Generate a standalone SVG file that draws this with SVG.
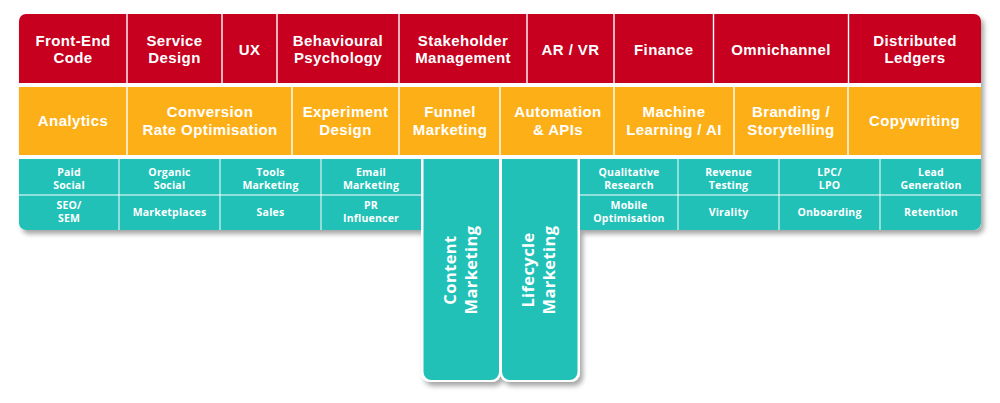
<svg xmlns="http://www.w3.org/2000/svg" width="1000" height="403" viewBox="0 0 1000 403">
<defs>
<filter id="sh" x="-5%" y="-5%" width="115%" height="130%">
<feDropShadow dx="3" dy="4" stdDeviation="2.5" flood-color="#000" flood-opacity="0.35"/>
</filter>
<style>
.r{fill:#C6001E}
.o{fill:#FDAF17}
.t{fill:#21C1B8}
text{font-family:"Open Sans","Liberation Sans",sans-serif;font-weight:700;fill:#fff;text-anchor:middle}
.big{font-family:"Liberation Sans",Arial,sans-serif;font-size:15px;letter-spacing:0.4px}
.sm{font-size:10.5px;letter-spacing:0.2px}
.v{font-size:16.5px;letter-spacing:0.4px}
</style>
</defs>
<rect width="1000" height="403" fill="#fff"/>
<g id="background" filter="url(#sh)" fill="#fff">
<rect x="19" y="14" width="962" height="216" rx="7"/>
<rect x="421" y="150" width="80" height="232" rx="9"/>
<rect x="500" y="150" width="80" height="232" rx="9"/>
</g>
<g id="red-row">
<g id="front-end-code"><path class="r" d="M19,21a7,7 0 0 1 7,-7H126.3V83H19Z"/><text class="big"><tspan x="73" y="45.5">Front-End</tspan><tspan x="73" y="63">Code</tspan></text></g>
<g id="service-design"><rect class="r" x="127.7" y="14" width="93.6" height="69"/><text class="big"><tspan x="174.5" y="45.5">Service</tspan><tspan x="174.5" y="63">Design</tspan></text></g>
<g id="ux"><rect class="r" x="222.7" y="14" width="53.6" height="69"/><text class="big" x="249.5" y="54.5">UX</text></g>
<g id="behavioural-psychology"><rect class="r" x="277.7" y="14" width="120.6" height="69"/><text class="big"><tspan x="338" y="45.5">Behavioural</tspan><tspan x="338" y="63">Psychology</tspan></text></g>
<g id="stakeholder-management"><rect class="r" x="399.7" y="14" width="126.6" height="69"/><text class="big"><tspan x="463" y="45.5">Stakeholder</tspan><tspan x="463" y="63">Management</tspan></text></g>
<g id="ar-vr"><rect class="r" x="527.7" y="14" width="85.6" height="69"/><text class="big" x="570.5" y="54.5">AR / VR</text></g>
<g id="finance"><rect class="r" x="614.7" y="14" width="98.1" height="69"/><text class="big" x="663.8" y="54.5">Finance</text></g>
<g id="omnichannel"><rect class="r" x="714.2" y="14" width="133.6" height="69"/><text class="big" x="781" y="54.5">Omnichannel</text></g>
<g id="distributed-ledgers"><path class="r" d="M849.2,14H974a7,7 0 0 1 7,7V83H849.2Z"/><text class="big"><tspan x="915" y="45.5">Distributed</tspan><tspan x="915" y="63">Ledgers</tspan></text></g>
</g>
<g id="orange-row">
<g id="analytics"><rect class="o" x="19" y="87" width="107.3" height="68"/><text class="big" x="73" y="126">Analytics</text></g>
<g id="cro"><rect class="o" x="127.7" y="87" width="163.6" height="68"/><text class="big"><tspan x="210" y="117">Conversion</tspan><tspan x="210" y="134.5">Rate Optimisation</tspan></text></g>
<g id="experiment-design"><rect class="o" x="292.7" y="87" width="105.6" height="68"/><text class="big"><tspan x="345.5" y="117">Experiment</tspan><tspan x="345.5" y="134.5">Design</tspan></text></g>
<g id="funnel-marketing"><rect class="o" x="399.7" y="87" width="99.6" height="68"/><text class="big"><tspan x="450" y="117">Funnel</tspan><tspan x="450" y="134.5">Marketing</tspan></text></g>
<g id="automation-apis"><rect class="o" x="500.7" y="87" width="112.6" height="68"/><text class="big"><tspan x="558" y="117">Automation</tspan><tspan x="558" y="134.5">&amp; APIs</tspan></text></g>
<g id="machine-learning"><rect class="o" x="614.7" y="87" width="118.6" height="68"/><text class="big"><tspan x="674" y="117">Machine</tspan><tspan x="674" y="134.5">Learning / AI</tspan></text></g>
<g id="branding-storytelling"><rect class="o" x="734.7" y="87" width="112.6" height="68"/><text class="big"><tspan x="791" y="117">Branding /</tspan><tspan x="791" y="134.5">Storytelling</tspan></text></g>
<g id="copywriting"><rect class="o" x="848.7" y="87" width="132.3" height="68"/><text class="big" x="914.5" y="126">Copywriting</text></g>
</g>
<g id="teal-left">
<g id="paid-social"><rect class="t" x="19" y="159" width="99.5" height="35.5"/><text class="sm"><tspan x="69" y="176">Paid</tspan><tspan x="69" y="188.5">Social</tspan></text></g>
<g id="organic-social"><rect class="t" x="119.5" y="159" width="100" height="35.5"/><text class="sm"><tspan x="169.5" y="176">Organic</tspan><tspan x="169.5" y="188.5">Social</tspan></text></g>
<g id="tools-marketing"><rect class="t" x="220.5" y="159" width="100" height="35.5"/><text class="sm"><tspan x="270.5" y="176">Tools</tspan><tspan x="270.5" y="188.5">Marketing</tspan></text></g>
<g id="email-marketing"><rect class="t" x="321.5" y="159" width="99.5" height="35.5"/><text class="sm"><tspan x="371" y="176">Email</tspan><tspan x="371" y="188.5">Marketing</tspan></text></g>
<g id="seo-sem"><path class="t" d="M19,195.5H118.5V230H26a7,7 0 0 1 -7,-7Z"/><text class="sm"><tspan x="69" y="209.3">SEO/</tspan><tspan x="69" y="221.7">SEM</tspan></text></g>
<g id="marketplaces"><rect class="t" x="119.5" y="195.5" width="100" height="34.5"/><text class="sm" x="169.5" y="216">Marketplaces</text></g>
<g id="sales"><rect class="t" x="220.5" y="195.5" width="100" height="34.5"/><text class="sm" x="270.5" y="216">Sales</text></g>
<g id="pr-influencer"><rect class="t" x="321.5" y="195.5" width="99.5" height="34.5"/><text class="sm"><tspan x="371" y="209.3">PR</tspan><tspan x="371" y="221.7">Influencer</tspan></text></g>
</g>
<g id="content-marketing"><path class="t" d="M423.5,159H499V372a8,8 0 0 1 -8,8H431.5a8,8 0 0 1 -8,-8Z"/><text class="v" transform="translate(461.2,270) rotate(-90)"><tspan x="0" y="-5.5">Content</tspan><tspan x="0" y="15.5">Marketing</tspan></text></g>
<g id="lifecycle-marketing"><path class="t" d="M502,159H577.5V372a8,8 0 0 1 -8,8H510a8,8 0 0 1 -8,-8Z"/><text class="v" transform="translate(539.7,270) rotate(-90)"><tspan x="0" y="-5.5">Lifecycle</tspan><tspan x="0" y="15.5">Marketing</tspan></text></g>
<g id="teal-right">
<g id="qualitative-research"><rect class="t" x="580" y="159" width="97.5" height="35.5"/><text class="sm"><tspan x="629" y="176">Qualitative</tspan><tspan x="629" y="188.5">Research</tspan></text></g>
<g id="revenue-testing"><rect class="t" x="678.5" y="159" width="100" height="35.5"/><text class="sm"><tspan x="728.5" y="176">Revenue</tspan><tspan x="728.5" y="188.5">Testing</tspan></text></g>
<g id="lpc-lpo"><rect class="t" x="779.5" y="159" width="100" height="35.5"/><text class="sm"><tspan x="829.5" y="176">LPC/</tspan><tspan x="829.5" y="188.5">LPO</tspan></text></g>
<g id="lead-generation"><rect class="t" x="880.5" y="159" width="100.5" height="35.5"/><text class="sm"><tspan x="931" y="176">Lead</tspan><tspan x="931" y="188.5">Generation</tspan></text></g>
<g id="mobile-optimisation"><rect class="t" x="580" y="195.5" width="97.5" height="34.5"/><text class="sm"><tspan x="629" y="209.3">Mobile</tspan><tspan x="629" y="221.7">Optimisation</tspan></text></g>
<g id="virality"><rect class="t" x="678.5" y="195.5" width="100" height="34.5"/><text class="sm" x="728.5" y="216">Virality</text></g>
<g id="onboarding"><rect class="t" x="779.5" y="195.5" width="100" height="34.5"/><text class="sm" x="829.5" y="216">Onboarding</text></g>
<g id="retention"><path class="t" d="M880.5,195.5H981V223a7,7 0 0 1 -7,7H880.5Z"/><text class="sm" x="931" y="216">Retention</text></g>
</g>
<g id="connectors"/>
</svg>
